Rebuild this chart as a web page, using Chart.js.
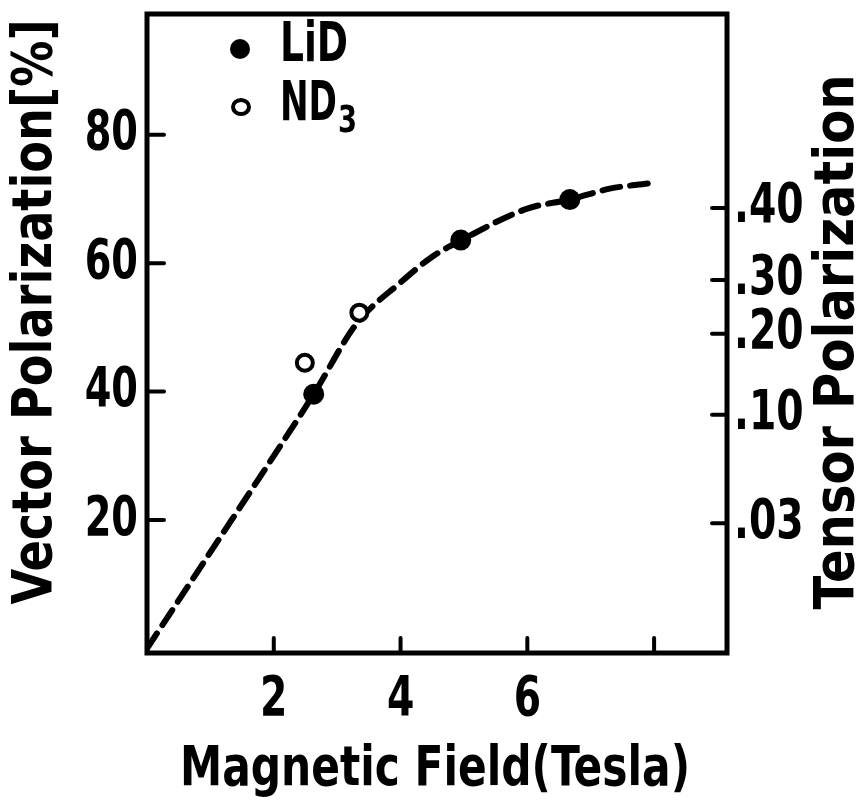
<!DOCTYPE html>
<html>
<head>
<meta charset="utf-8">
<script src="https://cdn.jsdelivr.net/npm/chart.js@4.4.1/dist/chart.umd.min.js"></script>
<style>
html, body { margin: 0; padding: 0; background: #fff; }
#wrap { width: 864px; height: 806px; }
</style>
</head>
<body>
<div id="wrap"><canvas id="polChart" width="864" height="806"></canvas></div>
<script>
// --- Données : champ magnétique (T) / polarisation vectorielle (%) ---
const lidField = [2.63, 4.95, 6.67];
const lidPol = [39.6, 63.6, 69.9];
const nd3Field = [2.49, 3.35];
const nd3Pol = [44.5, 52.3];
// courbe en tirets
const curveField = [0, 1, 2, 2.63, 3.3, 4, 4.5, 5, 6, 6.67, 7.3, 7.9];
const curvePol = [0, 15, 30, 39.6, 50.5, 57, 61, 63.8, 68.5, 69.9, 71.6, 72.4];
// graduations
const fieldTicks = [2, 4, 6, 8];
const fieldLabels = ['2', '4', '6', ''];
const vectorTicks = [20, 40, 60, 80];
const vectorLabels = ['20', '40', '60', '80'];
const tensorLabels = ['.03', '.10', '.20', '.30', '.40'];
const tensorAtVector = [19.5, 36.4, 49.0, 57.4, 68.6];

const FONT = "'DejaVu Sans Condensed', 'DejaVu Sans', sans-serif";
const toPoints = (xs, ys) => xs.map((x, i) => ({ x: x, y: ys[i] }));

// texte resserré horizontalement (facteur sq), éventuellement tourné
function drawText(ctx, text, x, y, size, opts) {
    const o = opts || {};
    ctx.save();
    ctx.font = 'bold ' + size + 'px ' + FONT;
    ctx.textAlign = o.align || 'center';
    ctx.textBaseline = 'middle';
    let sq = o.sq || 0.8;
    if (o.fit) sq = o.fit / ctx.measureText(text).width;
    ctx.translate(x, y);
    if (o.rot) ctx.rotate(o.rot);
    ctx.scale(sq, 1);
    ctx.fillText(text, 0, 0);
    const w = ctx.measureText(text).width * sq;
    ctx.restore();
    return w;
}

// cadre, graduations vers l'intérieur, étiquettes, titres et légende
const framePlugin = {
    id: 'framePlugin',
    afterDraw(chart) {
        const { ctx, chartArea: a, scales } = chart;
        const { x, y, y2 } = scales;
        ctx.save();
        ctx.strokeStyle = '#000';
        ctx.fillStyle = '#000';
        ctx.lineCap = 'round';
        ctx.lineWidth = 4;
        ctx.beginPath();
        x.ticks.forEach(t => {
            const px = x.getPixelForValue(t.value);
            ctx.moveTo(px, a.bottom);
            ctx.lineTo(px, a.bottom - 15);
        });
        y.ticks.forEach(t => {
            const py = y.getPixelForValue(t.value);
            ctx.moveTo(a.left, py);
            ctx.lineTo(a.left + 17, py);
        });
        y2.ticks.forEach(t => {
            const py = y2.getPixelForValue(t.value);
            ctx.moveTo(a.right, py);
            ctx.lineTo(a.right - 15, py);
        });
        ctx.stroke();
        ctx.lineCap = 'butt';
        ctx.lineWidth = 5;
        ctx.strokeRect(a.left, a.top, a.width, a.height);

        // étiquettes des graduations
        x.ticks.forEach((t, i) => {
            drawText(ctx, fieldLabels[i], x.getPixelForValue(t.value), a.bottom + 47, 56, { sq: 0.78 });
        });
        y.ticks.forEach((t, i) => {
            drawText(ctx, vectorLabels[i], a.left - 9, y.getPixelForValue(t.value), 56, { sq: 0.76, align: 'right' });
        });
        y2.ticks.forEach((t, i) => {
            drawText(ctx, tensorLabels[i], a.right + 7, y2.getPixelForValue(t.value), 56, { sq: 0.78, align: 'left' });
        });

        // titres des axes
        drawText(ctx, 'Vector Polarization[%]', 36, 312, 56, { rot: -Math.PI / 2, fit: 585 });
        drawText(ctx, 'Tensor Polarization', 838, 342, 56, { rot: -Math.PI / 2, fit: 535 });
        drawText(ctx, 'Magnetic Field(Tesla)', 435, 770, 56, { fit: 510 });

        // légende
        ctx.beginPath();
        ctx.arc(240, 49, 10, 0, Math.PI * 2);
        ctx.fill();
        ctx.beginPath();
        ctx.lineWidth = 4;
        ctx.ellipse(241, 107, 8, 7, 0, 0, Math.PI * 2);
        ctx.stroke();
        drawText(ctx, 'LiD', 280, 46, 56, { fit: 68, align: 'left' });
        const w = drawText(ctx, 'ND', 280, 105, 56, { fit: 57, align: 'left' });
        drawText(ctx, '3', 280 + w + 1, 122, 38, { sq: 0.8, align: 'left' });
        ctx.restore();
    }
};

new Chart(document.getElementById('polChart').getContext('2d'), {
    type: 'scatter',
    data: {
        datasets: [{
            label: 'LiD',
            data: toPoints(lidField, lidPol),
            pointRadius: 10.5,
            backgroundColor: '#000',
            borderWidth: 0
        }, {
            label: 'ND3',
            data: toPoints(nd3Field, nd3Pol),
            pointRadius: 8,
            backgroundColor: '#fff',
            borderColor: '#000',
            borderWidth: 4
        }, {
            label: 'curve',
            data: toPoints(curveField, curvePol),
            showLine: true,
            cubicInterpolationMode: 'monotone',
            borderColor: '#000',
            borderWidth: 6,
            borderDash: [18, 10],
            borderCapStyle: 'round',
            pointRadius: 0
        }]
    },
    options: {
        responsive: false,
        animation: false,
        layout: { padding: { top: 14, left: 0, right: 0, bottom: 0 } },
        plugins: { legend: { display: false }, tooltip: { enabled: false } },
        scales: {
            x: {
                type: 'linear',
                min: 0,
                max: 9.15,
                afterFit: s => { s.height = 153; s.paddingLeft = 0; s.paddingRight = 0; },
                afterBuildTicks: s => { s.ticks = fieldTicks.map(v => ({ value: v })); },
                grid: { display: false, drawTicks: false },
                border: { display: false },
                ticks: { display: false }
            },
            y: {
                type: 'linear',
                position: 'left',
                min: -0.7,
                max: 98.8,
                afterFit: s => { s.width = 147; s.paddingTop = 0; s.paddingBottom = 0; },
                afterBuildTicks: s => { s.ticks = vectorTicks.map(v => ({ value: v })); },
                grid: { display: false, drawTicks: false },
                border: { display: false },
                ticks: { display: false }
            },
            y2: {
                type: 'linear',
                position: 'right',
                min: -0.7,
                max: 98.8,
                afterFit: s => { s.width = 137; s.paddingTop = 0; s.paddingBottom = 0; },
                afterBuildTicks: s => { s.ticks = tensorAtVector.map(v => ({ value: v })); },
                grid: { display: false, drawTicks: false },
                border: { display: false },
                ticks: { display: false }
            }
        }
    },
    plugins: [framePlugin]
});
</script>
</body>
</html>
